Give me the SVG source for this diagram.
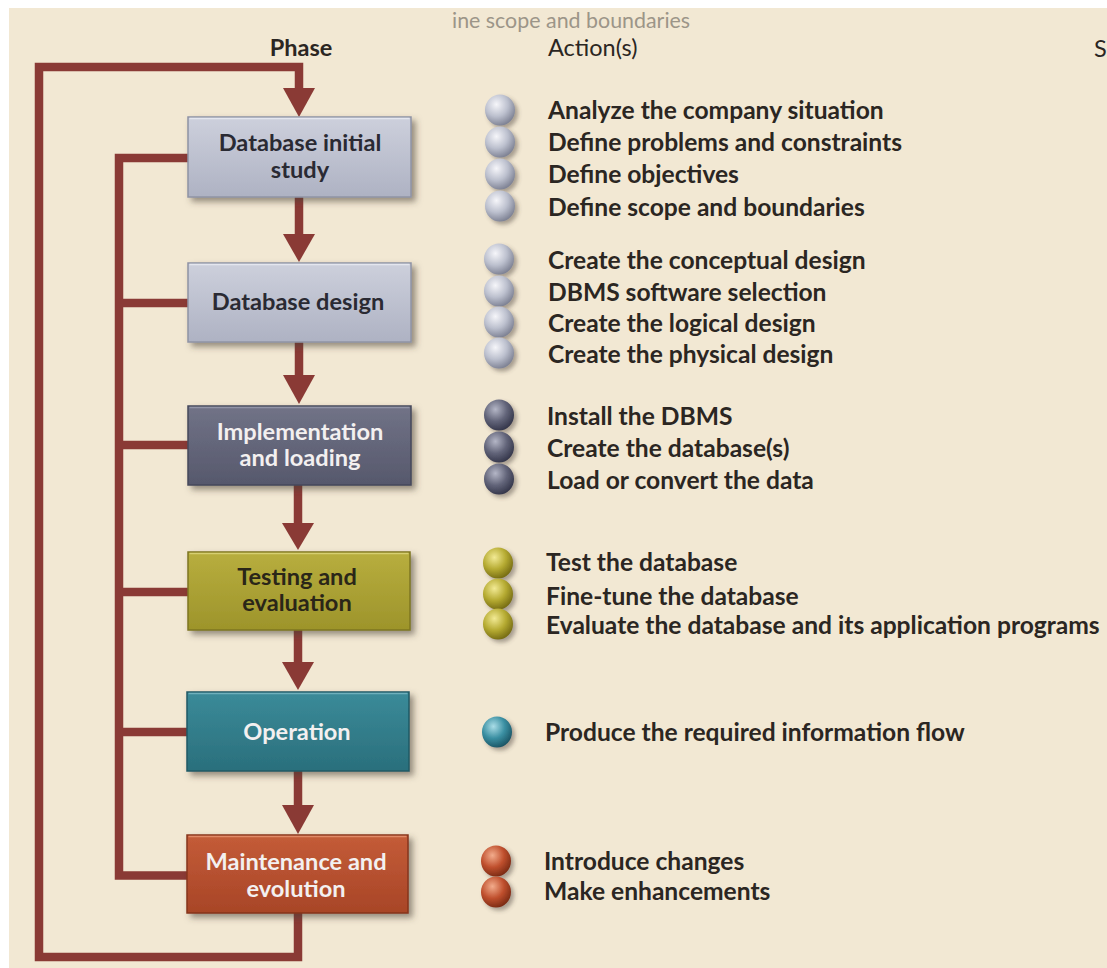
<svg xmlns="http://www.w3.org/2000/svg" width="1107" height="968" viewBox="0 0 1107 968">
<defs>
<style>
.conn{fill:none;stroke:#8a3a35;stroke-width:8.5;stroke-linejoin:miter;stroke-linecap:butt}
.head{fill:#8a3a35}
.lbl{font-family:Lato,"Open Sans","Liberation Sans",sans-serif;font-weight:bold;font-size:23.6px;text-anchor:middle}
.act{font-family:Lato,"Open Sans","Liberation Sans",sans-serif;font-weight:bold;font-size:24.6px;fill:#2b2622}
.hdr{font-family:Lato,"Open Sans","Liberation Sans",sans-serif;font-size:23.5px;fill:#2b2622}
.dark{fill:#2a2a33}
.light{fill:#f3f0f0}
</style>
<filter id="sh" x="-10%" y="-20%" width="125%" height="150%">
<feDropShadow dx="4" dy="4" stdDeviation="3" flood-color="#4a4038" flood-opacity="0.55"/>
</filter>
<filter id="bsh" x="-30%" y="-30%" width="170%" height="170%">
<feDropShadow dx="3" dy="3" stdDeviation="2" flood-color="#4a4038" flood-opacity="0.45"/>
</filter>
<linearGradient id="gGrey" x1="0" y1="0" x2="0" y2="1"><stop offset="0" stop-color="#cdd0dc"/><stop offset="1" stop-color="#aeb2c3"/></linearGradient>
<linearGradient id="gSlate" x1="0" y1="0" x2="0" y2="1"><stop offset="0" stop-color="#717387"/><stop offset="1" stop-color="#56586c"/></linearGradient>
<linearGradient id="gOlive" x1="0" y1="0" x2="0" y2="1"><stop offset="0" stop-color="#b8ae3e"/><stop offset="1" stop-color="#9d942b"/></linearGradient>
<linearGradient id="gTeal" x1="0" y1="0" x2="0" y2="1"><stop offset="0" stop-color="#3b8b99"/><stop offset="1" stop-color="#2a6f7c"/></linearGradient>
<linearGradient id="gRust" x1="0" y1="0" x2="0" y2="1"><stop offset="0" stop-color="#c45c38"/><stop offset="1" stop-color="#a84527"/></linearGradient>
<radialGradient id="sGrey" cx="0.38" cy="0.32" r="0.7"><stop offset="0" stop-color="#f6f6fa"/><stop offset="0.55" stop-color="#bcc0ce"/><stop offset="1" stop-color="#7e8294"/></radialGradient>
<radialGradient id="sSlate" cx="0.38" cy="0.32" r="0.7"><stop offset="0" stop-color="#b4b6c6"/><stop offset="0.55" stop-color="#626479"/><stop offset="1" stop-color="#35374b"/></radialGradient>
<radialGradient id="sOlive" cx="0.38" cy="0.32" r="0.7"><stop offset="0" stop-color="#f2ea94"/><stop offset="0.55" stop-color="#b6ab32"/><stop offset="1" stop-color="#776d14"/></radialGradient>
<radialGradient id="sTeal" cx="0.38" cy="0.32" r="0.7"><stop offset="0" stop-color="#aadde7"/><stop offset="0.55" stop-color="#3a8fa2"/><stop offset="1" stop-color="#1c5666"/></radialGradient>
<radialGradient id="sRust" cx="0.38" cy="0.32" r="0.7"><stop offset="0" stop-color="#f2ac8c"/><stop offset="0.55" stop-color="#c0502e"/><stop offset="1" stop-color="#7c2b14"/></radialGradient>
<ellipse id="ball" cx="0" cy="0" rx="15" ry="15.5"/>
</defs>

<rect x="0" y="0" width="1107" height="968" fill="#ffffff"/>
<rect x="9" y="8" width="1098" height="960" fill="#f2e8d3"/>

<text x="452" y="28" font-family="Lato,'Liberation Sans',sans-serif" font-size="21.4" fill="#9c9588">ine scope and boundaries</text>
<text x="1094" y="57" class="hdr">S</text>

<text x="301" y="56" class="hdr" font-weight="bold" text-anchor="middle" font-size="21.6">Phase</text>
<text x="548" y="56" class="hdr">Action(s)</text>

<g id="connectors">
<path class="conn" d="M298,913 V957 H39 V67 H299 V90"/>
<polygon class="head" points="283,88 315,88 299,117"/>
<path class="conn" d="M188,158 H119 V875.5 H188"/>
<path class="conn" d="M119,303 H188 M119,445 H188 M119,592 H188 M119,732 H188"/>
<path class="conn" d="M299,197 V236 M299,342 V377 M298,485 V524 M298,630 V664 M298,771 V807"/>
<polygon class="head" points="283,234 315,234 299,262"/>
<polygon class="head" points="283,375 315,375 299,404"/>
<polygon class="head" points="282,523 314,523 298,550"/>
<polygon class="head" points="282,662 314,662 298,690"/>
<polygon class="head" points="282,805 314,805 298,834"/>
</g>

<g id="n1">
<rect x="188" y="117" width="223" height="80" fill="url(#gGrey)" stroke="#8f93a4" stroke-width="1.5" filter="url(#sh)"/>
<path d="M189.5,118.5 H409.5" stroke="#e4e6ee" stroke-width="1.5"/>
<text x="300" y="151" class="lbl dark">Database initial</text>
<text x="300" y="178" class="lbl dark">study</text>
</g>
<g id="n2">
<rect x="188" y="263" width="223" height="79" fill="url(#gGrey)" stroke="#8f93a4" stroke-width="1.5" filter="url(#sh)"/>
<path d="M189.5,264.5 H409.5" stroke="#e4e6ee" stroke-width="1.5"/>
<text x="298" y="310" class="lbl dark">Database design</text>
</g>
<g id="n3">
<rect x="188" y="406" width="223" height="79" fill="url(#gSlate)" stroke="#46485b" stroke-width="1.5" filter="url(#sh)"/>
<path d="M189.5,407.5 H409.5" stroke="#9294a6" stroke-width="1.5"/>
<text x="300" y="440" class="lbl light">Implementation</text>
<text x="300" y="466" class="lbl light">and loading</text>
</g>
<g id="n4">
<rect x="188" y="552" width="222" height="78" fill="url(#gOlive)" stroke="#7e7621" stroke-width="1.5" filter="url(#sh)"/>
<path d="M189.5,553.5 H408.5" stroke="#d6cf72" stroke-width="1.5"/>
<text x="297" y="585" class="lbl" fill="#2a2618">Testing and</text>
<text x="297" y="611" class="lbl" fill="#2a2618">evaluation</text>
</g>
<g id="n5">
<rect x="187" y="692" width="222" height="79" fill="url(#gTeal)" stroke="#1f5a65" stroke-width="1.5" filter="url(#sh)"/>
<path d="M188.5,693.5 H407.5" stroke="#6fb0bc" stroke-width="1.5"/>
<text x="297" y="740" class="lbl light">Operation</text>
</g>
<g id="n6">
<rect x="187" y="835" width="221" height="78" fill="url(#gRust)" stroke="#86351d" stroke-width="1.5" filter="url(#sh)"/>
<path d="M188.5,836.5 H406.5" stroke="#e08a68" stroke-width="1.5"/>
<text x="296" y="870" class="lbl light">Maintenance and</text>
<text x="296" y="897" class="lbl light">evolution</text>
</g>

<g id="actions1">
<use href="#ball" x="500" y="110" fill="url(#sGrey)" filter="url(#bsh)"/>
<use href="#ball" x="500" y="142" fill="url(#sGrey)" filter="url(#bsh)"/>
<use href="#ball" x="500" y="174" fill="url(#sGrey)" filter="url(#bsh)"/>
<use href="#ball" x="500" y="206" fill="url(#sGrey)" filter="url(#bsh)"/>
<text x="548" y="119" class="act">Analyze the company situation</text>
<text x="548" y="151" class="act">Define problems and constraints</text>
<text x="548" y="183" class="act">Define objectives</text>
<text x="548" y="216" class="act">Define scope and boundaries</text>
</g>
<g id="actions2">
<use href="#ball" x="499" y="259" fill="url(#sGrey)" filter="url(#bsh)"/>
<use href="#ball" x="499" y="291" fill="url(#sGrey)" filter="url(#bsh)"/>
<use href="#ball" x="499" y="322" fill="url(#sGrey)" filter="url(#bsh)"/>
<use href="#ball" x="499" y="353" fill="url(#sGrey)" filter="url(#bsh)"/>
<text x="548" y="269" class="act">Create the conceptual design</text>
<text x="548" y="301" class="act">DBMS software selection</text>
<text x="548" y="332" class="act">Create the logical design</text>
<text x="548" y="363" class="act">Create the physical design</text>
</g>
<g id="actions3">
<use href="#ball" x="499" y="415" fill="url(#sSlate)" filter="url(#bsh)"/>
<use href="#ball" x="499" y="447" fill="url(#sSlate)" filter="url(#bsh)"/>
<use href="#ball" x="499" y="479" fill="url(#sSlate)" filter="url(#bsh)"/>
<text x="547" y="425" class="act">Install the DBMS</text>
<text x="547" y="457" class="act">Create the database(s)</text>
<text x="547" y="489" class="act">Load or convert the data</text>
</g>
<g id="actions4">
<use href="#ball" x="498" y="563" fill="url(#sOlive)" filter="url(#bsh)"/>
<use href="#ball" x="498" y="594" fill="url(#sOlive)" filter="url(#bsh)"/>
<use href="#ball" x="498" y="624" fill="url(#sOlive)" filter="url(#bsh)"/>
<text x="546" y="571" class="act">Test the database</text>
<text x="546" y="605" class="act">Fine-tune the database</text>
<text x="546" y="634" class="act">Evaluate the database and its application programs</text>
</g>
<g id="actions5">
<use href="#ball" x="497" y="732" fill="url(#sTeal)" filter="url(#bsh)"/>
<text x="545" y="741" class="act">Produce the required information flow</text>
</g>
<g id="actions6">
<use href="#ball" x="496" y="861" fill="url(#sRust)" filter="url(#bsh)"/>
<use href="#ball" x="496" y="892" fill="url(#sRust)" filter="url(#bsh)"/>
<text x="544" y="870" class="act">Introduce changes</text>
<text x="544" y="900" class="act">Make enhancements</text>
</g>
</svg>
